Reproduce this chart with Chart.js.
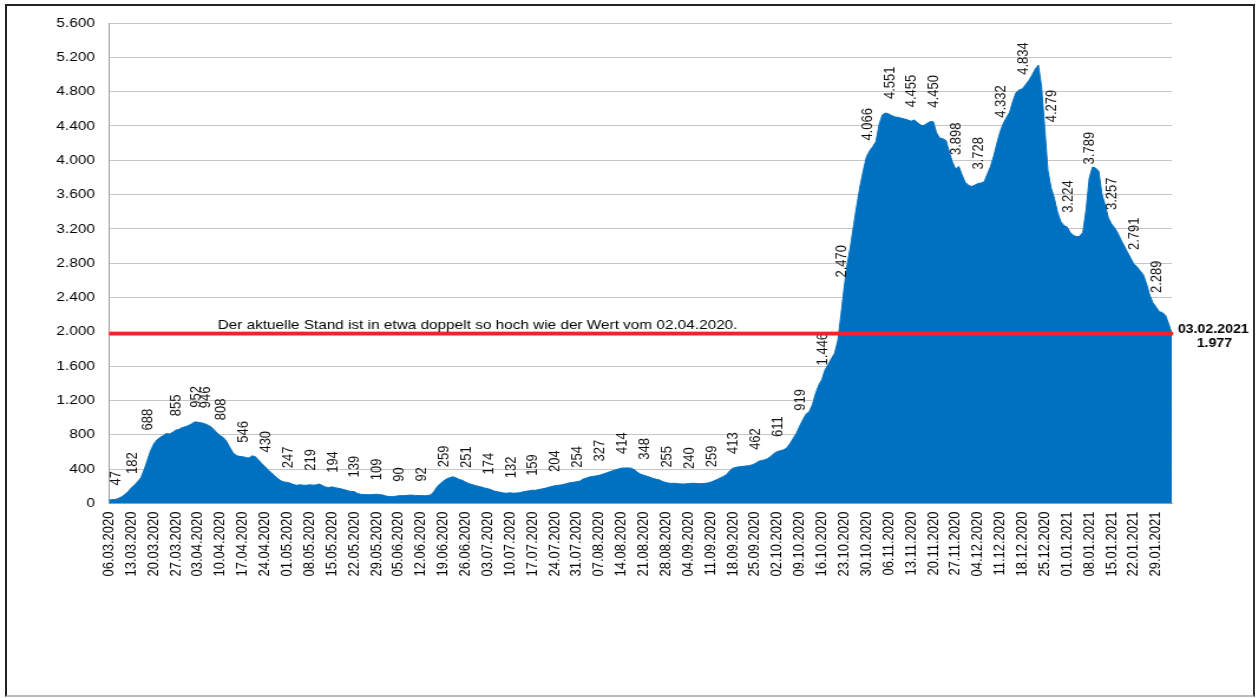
<!DOCTYPE html>
<html>
<head>
<meta charset="utf-8">
<script src="https://cdn.jsdelivr.net/npm/chart.js@4.4.0/dist/chart.umd.min.js"></script>
<style>
  html, body { margin: 0; padding: 0; background: #fff; overflow: hidden; }
  #wrap { position: absolute; left: 0; top: 0; width: 1066px; height: 698px; transform: scaleX(1.18); transform-origin: 0 0; }
  #frame { position: absolute; left: 5px; top: 4px; width: 1250px; height: 693px; box-sizing: border-box;
           border-left: 2px solid #222; border-top: 2px solid #222; border-right: 2px solid #333; border-bottom: 2px solid #bbb; pointer-events: none; }
</style>
</head>
<body>
<div id="wrap"><canvas id="myChart"></canvas></div>
<div id="frame"></div>
<script>
// daily values from 06.03.2020 to 03.02.2021
let startDay = new Date(2020, 2, 6);
let dayCount = 335;
let values = [
    40, 45, 47, 60, 80, 105, 140, 182, 215, 255,
    300, 390, 500, 610, 690, 740, 770, 790, 815, 810,
    830, 855, 865, 885, 895, 910, 930, 952, 946, 940,
    930, 915, 895, 860, 820, 790, 765, 720, 650, 590,
    560, 548, 546, 535, 530, 556, 545, 505, 465, 430,
    390, 360, 325, 290, 265, 250, 247, 235, 220, 212,
    218, 214, 212, 219, 214, 216, 228, 210, 192, 186,
    194, 185, 178, 170, 160, 150, 140, 139, 118, 108,
    104, 103, 103, 104, 109, 103, 100, 86, 82, 80,
    85, 90, 92, 92, 96, 98, 94, 92, 92, 91,
    92, 100, 135, 190, 230, 259, 285, 300, 312, 300,
    280, 270, 251, 232, 222, 210, 200, 192, 180, 174,
    160, 145, 137, 130, 122, 120, 125, 120, 122, 126,
    135, 142, 148, 155, 154, 162, 170, 177, 188, 198,
    206, 212, 216, 224, 235, 243, 248, 254, 262, 285,
    296, 310, 316, 321, 328, 340, 352, 366, 378, 391,
    402, 412, 414, 414, 412, 395, 365, 342, 330, 318,
    305, 292, 282, 274, 255, 245, 236, 235, 235, 230,
    228, 228, 232, 235, 235, 232, 230, 234, 238, 248,
    262, 280, 297, 315, 335, 380, 410, 422, 428, 432,
    437, 440, 450, 465, 490, 502, 507, 525, 550, 585,
    605, 616, 626, 650, 700, 760, 820, 900, 975, 1040,
    1070, 1150, 1280, 1380, 1446, 1560, 1620, 1690, 1750, 1900,
    2200, 2520, 2800, 3000, 3250, 3480, 3700, 3880, 4040, 4110,
    4160, 4220, 4420, 4530, 4551, 4540, 4520, 4505, 4500, 4490,
    4480, 4470, 4455, 4470, 4440, 4410, 4405, 4430, 4450, 4450,
    4320, 4260, 4250, 4230, 4100, 3980, 3898, 3930, 3830, 3745,
    3710, 3695, 3710, 3728, 3735, 3750, 3840, 3930, 4050, 4200,
    4332, 4430, 4500, 4560, 4690, 4790, 4820, 4834, 4880, 4930,
    4990, 5060, 5110, 4860, 4380, 3880, 3680, 3560, 3400, 3290,
    3240, 3224, 3160, 3125, 3110, 3115, 3160, 3420, 3789, 3920,
    3910, 3870, 3600, 3480, 3330, 3257, 3210, 3150, 3070, 3000,
    2930, 2860, 2791, 2760, 2710, 2665, 2560, 2430, 2340, 2289,
    2236, 2225, 2190, 2090, 1977
];
// weekly labels written above the area
let labelDates = [
    '08.03.2020', '13.03.2020', '18.03.2020', '27.03.2020', '02.04.2020', '05.04.2020', '10.04.2020',
    '17.04.2020', '24.04.2020', '01.05.2020', '08.05.2020', '15.05.2020', '22.05.2020', '29.05.2020',
    '05.06.2020', '12.06.2020', '19.06.2020', '26.06.2020', '03.07.2020', '10.07.2020', '17.07.2020',
    '24.07.2020', '31.07.2020', '07.08.2020', '14.08.2020', '21.08.2020', '28.08.2020', '04.09.2020',
    '11.09.2020', '18.09.2020', '25.09.2020', '02.10.2020', '09.10.2020', '16.10.2020', '22.10.2020',
    '30.10.2020', '06.11.2020', '13.11.2020', '20.11.2020', '27.11.2020', '04.12.2020', '11.12.2020',
    '18.12.2020', '27.12.2020', '01.01.2021', '08.01.2021', '15.01.2021', '22.01.2021', '29.01.2021'
];
let labelValues = [
    47, 182, 688, 855, 952, 946, 808,
    546, 430, 247, 219, 194, 139, 109,
    90, 92, 259, 251, 174, 132, 159,
    204, 254, 327, 414, 348, 255, 240,
    259, 413, 462, 611, 919, 1446, 2470,
    4066, 4551, 4455, 4450, 3898, 3728, 4332,
    4834, 4279, 3224, 3789, 3257, 2791, 2289
];
let refValue = 1977;
let refDate = '03.02.2021';
let refText = 'Der aktuelle Stand ist in etwa doppelt so hoch wie der Wert vom 02.04.2020.';

function two(n) { return (n < 10 ? '0' : '') + n; }
function fmt(v) { return String(v).replace(/\B(?=(\d{3})+(?!\d))/g, '.'); }

let dates = [];
for (let i = 0; i < dayCount; i++) {
    let d = new Date(startDay.getFullYear(), startDay.getMonth(), startDay.getDate() + i);
    dates.push(two(d.getDate()) + '.' + two(d.getMonth() + 1) + '.' + d.getFullYear());
}
let labelPoints = [];
for (let i = 0; i < labelDates.length; i++) {
    labelPoints.push({ x: labelDates[i], y: labelValues[i] });
}

const SX = 1.18;   // horizontal stretch of the whole picture
const FONT = '"Liberation Sans", Arial, sans-serif';

const extras = {
    id: 'extras',
    afterDatasetsDraw(chart) {
        const ctx = chart.ctx;
        const area = chart.chartArea;
        const y = chart.scales.y;
        // value labels
        const meta = chart.getDatasetMeta(1);
        ctx.save();
        ctx.fillStyle = '#111';
        ctx.font = '13px ' + FONT;
        ctx.textAlign = 'left';
        ctx.textBaseline = 'middle';
        meta.data.forEach((pt, j) => {
            ctx.save();
            ctx.translate(pt.x + 0.8, pt.y - 14);
            ctx.rotate(-Math.PI / 2);
            ctx.fillText(fmt(labelValues[j]), 0, 0);
            ctx.restore();
        });
        ctx.restore();
        // reference line
        const ry = y.getPixelForValue(refValue);
        ctx.save();
        ctx.strokeStyle = '#f5222d';
        ctx.lineWidth = 3.5;
        ctx.beginPath();
        ctx.moveTo(area.left, ry);
        ctx.lineTo(area.right + 1, ry);
        ctx.stroke();
        ctx.fillStyle = '#000';
        ctx.font = '13px ' + FONT;
        ctx.textAlign = 'left';
        ctx.textBaseline = 'alphabetic';
        ctx.fillText(refText, area.left + 92, ry - 4.5);
        ctx.font = 'bold 12px ' + FONT;
        ctx.textAlign = 'center';
        ctx.fillText(refDate, area.right + 35, ry - 1);
        ctx.fillText(fmt(refValue), area.right + 36, ry + 13);
        ctx.restore();
    }
};

Chart.defaults.font.family = FONT;
Chart.defaults.font.size = 13;
Chart.defaults.color = '#000';

const ctx = document.getElementById('myChart');
const chart = new Chart(ctx, {
    type: 'line',
    data: {
        labels: dates,
        datasets: [
            {
                data: values,
                fill: 'origin',
                backgroundColor: '#0070c0',
                borderColor: '#0070c0',
                borderWidth: 1,
                pointRadius: 0,
                tension: 0
            },
            {
                data: labelPoints,
                showLine: false,
                fill: false,
                pointRadius: 0,
                borderWidth: 0
            }
        ]
    },
    options: {
        responsive: true,
        maintainAspectRatio: false,
        animation: false,
        events: [],
        layout: { padding: { top: 23, right: 72.8, bottom: 0, left: 0 } },
        plugins: { legend: { display: false }, tooltip: { enabled: false } },
        scales: {
            x: {
                offset: false,
                grid: { display: false, drawTicks: false },
                border: { display: true, color: '#a6a6a6', width: 1 },
                ticks: {
                    autoSkip: false,
                    minRotation: 90,
                    maxRotation: 90,
                    padding: 8,
                    font: { size: 13 },
                    callback: function (value, index) {
                        return index % 7 === 0 ? this.getLabelForValue(value) : '';
                    }
                },
                afterFit: (s) => { s.height = 194.5; }
            },
            y: {
                min: 0,
                max: 5600,
                grid: { color: '#c6c6c6', lineWidth: 1, drawTicks: false },
                border: { display: true, color: '#a0a0a0', width: 1 },
                ticks: {
                    stepSize: 200,
                    padding: 12,
                    font: { size: 13 },
                    callback: (v) => (v % 400 === 0 ? fmt(v) : '')
                },
                afterFit: (s) => { s.width = 92.4; }
            }
        }
    },
    plugins: [extras]
});
</script>
</body>
</html>
